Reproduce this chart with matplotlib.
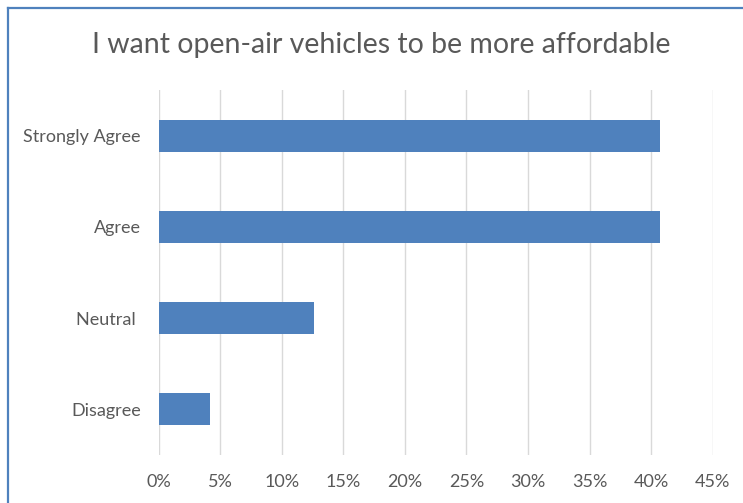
import matplotlib.pyplot as plt
from matplotlib.lines import Line2D
from matplotlib.ticker import PercentFormatter, MultipleLocator

plt.rcParams['font.family'] = ['Lato', 'DejaVu Sans']

# survey answers, bottom to top
answers = ["Disagree", "Neutral ", "Agree", "Strongly Agree"]
shares = [0.042, 0.126, 0.407, 0.407]

grey = "#595959"
bar_blue = "#4F81BD"

fig = plt.figure(figsize=(7.43, 5.03), dpi=100)
ax = fig.add_axes([0.2136, 0.0954, 0.9592 - 0.2136, 0.8211 - 0.0954])

ax.barh(answers, shares, height=0.35, color=bar_blue, zorder=3)

ax.set_xlim(0, 0.45)
ax.set_ylim(-0.5, 3.5)
ax.xaxis.set_major_locator(MultipleLocator(0.05))
ax.xaxis.set_major_formatter(PercentFormatter(1.0, decimals=0))
ax.grid(axis="x", color="#D9D9D9", linewidth=1.0, zorder=0)
ax.tick_params(length=0, labelsize=13, labelcolor=grey)
ax.tick_params(axis="y", pad=13)
ax.tick_params(axis="x", pad=14)
for s in ax.spines.values():
    s.set_visible(False)

fig.text(0.5 * (95 + 668) / 743, 1 - 45 / 503,
         "I want open-air vehicles to be more affordable",
         ha="center", va="center", fontsize=20.5, color=grey)

# frame edges along the top and left
fig.add_artist(Line2D([8 / 743, 8 / 743], [0, 1 - 8 / 503],
                      transform=fig.transFigure, color=bar_blue, lw=1.6))
fig.add_artist(Line2D([8 / 743, 1], [1 - 8 / 503, 1 - 8 / 503],
                      transform=fig.transFigure, color=bar_blue, lw=1.6))

fig.savefig("out.png", dpi=100)
